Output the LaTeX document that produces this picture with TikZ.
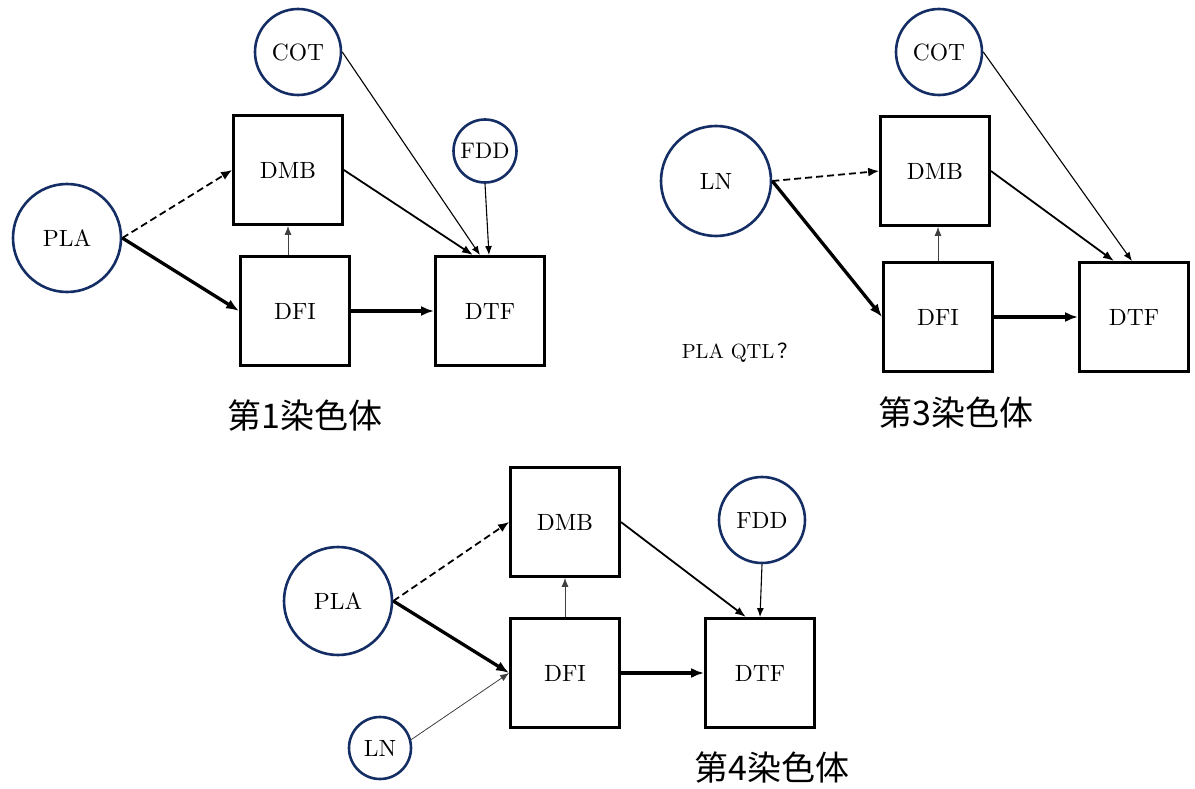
\documentclass[tikz,border=0pt]{standalone}
\usepackage{fontspec}
\usepackage{tikz}
\usetikzlibrary{arrows.meta}
\setmainfont{lmroman10-regular}[Extension=.otf]
\newfontfamily\cjk{Noto Sans CJK SC}
\definecolor{circblue}{RGB}{20,45,100}

\begin{document}
\begin{tikzpicture}[x=1pt,y=-1pt]
			\tikzstyle{trait} = [draw, line width=2.8pt, minimum size=109pt, inner sep=0pt, font=\fontsize{23.5}{28}\selectfont]
			\tikzstyle{factor} = [circle, draw=circblue, line width=2.6pt, inner sep=0pt, font=\fontsize{23.5}{28}\selectfont]
			\tikzstyle{heavy} = [line width=3.3pt, -{Latex[length=13pt,width=10pt]}]
			\tikzstyle{mid} = [line width=1.8pt, -{Latex[length=11pt,width=8pt]}]
			\tikzstyle{weak} = [line width=1.8pt, dash pattern=on 7pt off 4pt, -{Latex[length=11pt,width=9pt]}]
			\tikzstyle{fine} = [line width=1.1pt, -{Latex[length=9pt,width=7pt]}]
			\tikzstyle{faint} = [line width=0.8pt, black!75, -{Latex[length=9pt,width=7pt]}]
			\tikzstyle{title} = [font=\cjk\fontsize{34}{38}\selectfont]
			\useasboundingbox (0,0) rectangle (1195,789);

			\node[factor, minimum size=108pt] (pla1) at (67,238) {PLA};
			\node[factor, minimum size=86pt] (cot1) at (298,52) {COT};
			\node[factor, minimum size=63pt, font=\fontsize{22.5}{27}\selectfont] (fdd1) at (485,151) {FDD};
			\node[trait] (dmb1) at (288,170) {DMB};
			\node[trait] (dfi1) at (295,311) {DFI};
			\node[trait] (dtf1) at (490,311) {DTF};
			\node[title] (chr1) at (305,416) {第1染色体};
			\draw[weak] (pla1.east) -- (dmb1.west);
			\draw[heavy] (pla1.east) -- (dfi1.west);
			\draw[faint] (dmb1.south |- dfi1.north) -- (dmb1.south);
			\draw[mid] (dmb1.east) -- ([xshift=-17pt]dtf1.north);
			\draw[fine] (cot1.east) -- ([xshift=-10pt]dtf1.north);
			\draw[fine] (fdd1.south) -- ([xshift=-1pt]dtf1.north);
			\draw[heavy] (dfi1.east) -- (dtf1.west);

			\node[factor, minimum size=86pt] (cot3) at (939,52) {COT};
			\node[factor, minimum size=110pt] (ln3) at (716,181) {LN};
			\node[trait] (dmb3) at (935,171) {DMB};
			\node[trait] (dfi3) at (938,317) {DFI};
			\node[trait] (dtf3) at (1134,317) {DTF};
			\node[font=\fontsize{20.5}{25}\selectfont] (qtl3) at (740,353) {PLA QTL\,{\cjk ？}};
			\node[title] (chr3) at (956,413) {第3染色体};
			\draw[weak] (ln3.east) -- (dmb3.west);
			\draw[heavy] (ln3.east) -- (dfi3.west);
			\draw[faint] (dfi3.north) -- (dfi3.north |- dmb3.south);
			\draw[mid] (dmb3.east) -- ([xshift=-20pt]dtf3.north);
			\draw[fine] (cot3.east) -- ([xshift=-2pt]dtf3.north);
			\draw[heavy] (dfi3.east) -- (dtf3.west);

			\node[factor, minimum size=108pt] (pla4) at (338,601) {PLA};
			\node[factor, minimum size=62pt] (ln4) at (380,748) {LN};
			\node[factor, minimum size=86pt] (fdd4) at (762,520) {FDD};
			\node[trait] (dmb4) at (565,522) {DMB};
			\node[trait] (dfi4) at (565,673) {DFI};
			\node[trait] (dtf4) at (760,673) {DTF};
			\node[title] (chr4) at (772,768) {第4染色体};
			\draw[weak] (pla4.east) -- (dmb4.west);
			\draw[heavy] (pla4.east) -- (dfi4.west);
			\draw[faint] (ln4.15) -- (dfi4.west);
			\draw[faint] (dfi4.north) -- (dmb4.south);
			\draw[mid] (dmb4.east) -- ([xshift=-14pt]dtf4.north);
			\draw[fine] (fdd4.south) -- (dtf4.north);
			\draw[heavy] (dfi4.east) -- (dtf4.west);
\end{tikzpicture}
\end{document}
